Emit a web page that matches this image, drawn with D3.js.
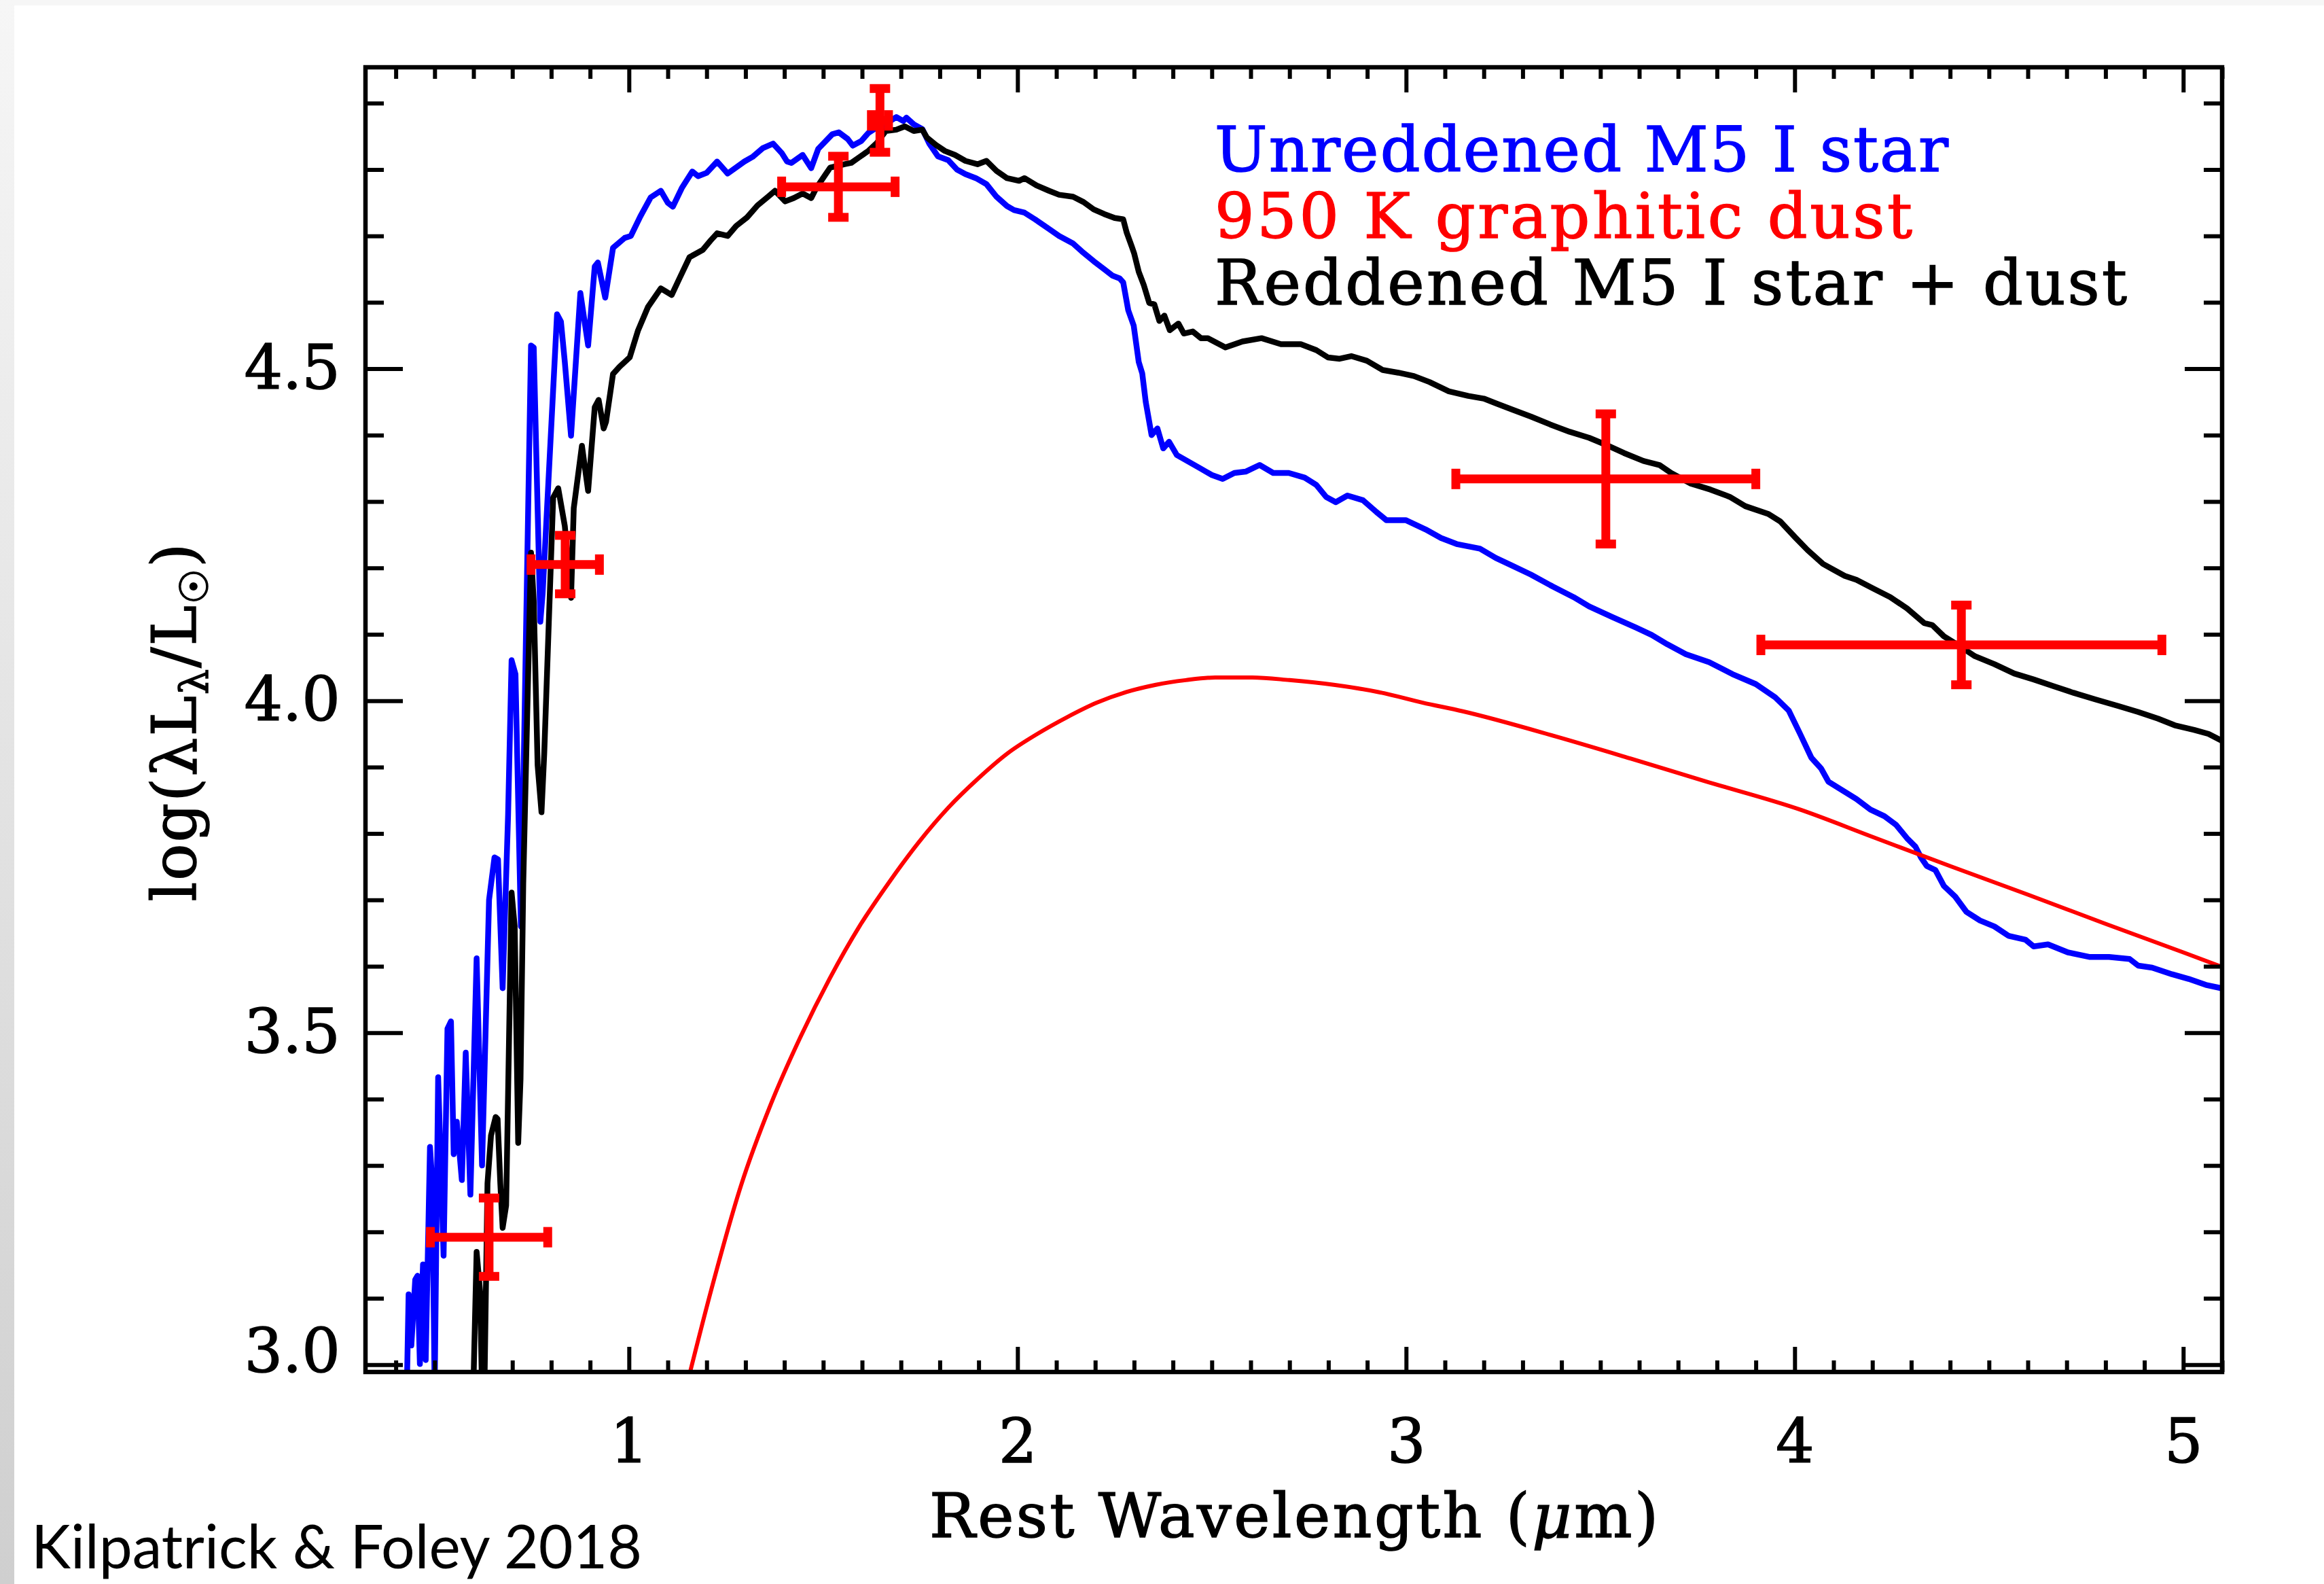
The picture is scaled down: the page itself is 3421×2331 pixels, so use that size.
<!DOCTYPE html>
<html>
<head>
<meta charset="utf-8">
<script src="https://cdnjs.cloudflare.com/ajax/libs/d3/7.8.5/d3.min.js"></script>
<style>
  body { margin: 0; background: #fff; }
  svg { display: block; }
</style>
</head>
<body>
<script>
// unreddened M5 I star spectrum (wavelength in micron, log lambda L_lambda / Lsun)
var starWave = [0.428, 0.433, 0.440, 0.450, 0.456, 0.462, 0.470, 0.477, 0.488, 0.494, 0.500, 0.509, 0.523, 0.533, 0.542, 0.549, 0.557, 0.570, 0.580, 0.592,
  0.608, 0.622, 0.640, 0.654, 0.663, 0.675, 0.689, 0.698, 0.708, 0.722, 0.748, 0.755, 0.772, 0.778, 0.815, 0.825, 0.835, 0.851, 0.875, 0.895,
  0.912, 0.920, 0.939, 0.959, 0.975, 0.989, 1.005, 1.029, 1.056, 1.082, 1.100, 1.113, 1.136, 1.163, 1.178, 1.200, 1.227, 1.254, 1.297, 1.318,
  1.344, 1.371, 1.393, 1.407, 1.418, 1.447, 1.469, 1.487, 1.523, 1.540, 1.563, 1.576, 1.598, 1.616, 1.634, 1.656, 1.669, 1.688, 1.706, 1.714,
  1.733, 1.755, 1.773, 1.795, 1.822, 1.844, 1.866, 1.893, 1.920, 1.946, 1.973, 1.991, 2.018, 2.045, 2.080, 2.107, 2.142, 2.165, 2.196, 2.223,
  2.245, 2.263, 2.272, 2.285, 2.299, 2.312, 2.321, 2.330, 2.345, 2.360, 2.375, 2.390, 2.410, 2.440, 2.470, 2.500, 2.528, 2.558, 2.587, 2.623,
  2.658, 2.698, 2.739, 2.769, 2.794, 2.819, 2.849, 2.889, 2.924, 2.949, 2.999, 3.050, 3.090, 3.130, 3.190, 3.231, 3.271, 3.321, 3.371, 3.431,
  3.471, 3.531, 3.592, 3.632, 3.672, 3.720, 3.780, 3.840, 3.900, 3.950, 3.985, 4.014, 4.043, 4.068, 4.087, 4.123, 4.159, 4.195, 4.231, 4.261,
  4.289, 4.311, 4.325, 4.340, 4.362, 4.384, 4.413, 4.442, 4.477, 4.514, 4.550, 4.594, 4.615, 4.652, 4.703, 4.760, 4.809, 4.862, 4.884, 4.920,
  4.971, 5.014, 5.058, 5.098];
var starLum = [2.95, 3.106, 3.029, 3.128, 3.134, 3.001, 3.151, 3.007, 3.328, 3.273, 2.96, 3.433, 3.164, 3.506, 3.517, 3.317, 3.366, 3.278, 3.470, 3.256,
  3.612, 3.300, 3.700, 3.764, 3.761, 3.567, 3.828, 4.061, 4.040, 3.660, 4.535, 4.532, 4.119, 4.162, 4.582, 4.571, 4.510, 4.399, 4.614, 4.535,
  4.654, 4.660, 4.607, 4.682, 4.690, 4.697, 4.700, 4.729, 4.758, 4.768, 4.750, 4.744, 4.772, 4.797, 4.790, 4.795, 4.812, 4.794, 4.812, 4.819,
  4.832, 4.839, 4.825, 4.812, 4.810, 4.822, 4.802, 4.831, 4.853, 4.856, 4.846, 4.836, 4.843, 4.855, 4.862, 4.866, 4.872, 4.879, 4.873, 4.878,
  4.868, 4.861, 4.839, 4.820, 4.814, 4.800, 4.793, 4.787, 4.778, 4.759, 4.745, 4.739, 4.735, 4.725, 4.711, 4.700, 4.689, 4.677, 4.662, 4.650,
  4.640, 4.636, 4.630, 4.588, 4.565, 4.510, 4.493, 4.450, 4.400, 4.410, 4.380, 4.390, 4.370, 4.360, 4.350, 4.340, 4.334, 4.343, 4.345, 4.355,
  4.343, 4.343, 4.336, 4.325, 4.307, 4.299, 4.309, 4.302, 4.284, 4.272, 4.272, 4.258, 4.245, 4.236, 4.229, 4.215, 4.204, 4.190, 4.174, 4.156,
  4.142, 4.126, 4.110, 4.099, 4.085, 4.070, 4.058, 4.040, 4.025, 4.005, 3.985, 3.950, 3.914, 3.898, 3.878, 3.865, 3.852, 3.836, 3.826, 3.813,
  3.793, 3.780, 3.764, 3.751, 3.745, 3.721, 3.705, 3.682, 3.669, 3.660, 3.646, 3.640, 3.630, 3.633, 3.621, 3.614, 3.614, 3.611, 3.601, 3.598,
  3.588, 3.581, 3.572, 3.567];

// reddened M5 I star + dust
var redWave = [0.599, 0.608, 0.617, 0.622, 0.628, 0.636, 0.645, 0.657, 0.662, 0.669, 0.675, 0.684, 0.698, 0.706, 0.715, 0.721, 0.728, 0.748, 0.755, 0.765,
  0.775, 0.782, 0.805, 0.818, 0.835, 0.851, 0.858, 0.879, 0.895, 0.912, 0.922, 0.935, 0.941, 0.959, 0.976, 1.002, 1.023, 1.049, 1.082, 1.110,
  1.130, 1.156, 1.190, 1.210, 1.227, 1.254, 1.276, 1.304, 1.331, 1.358, 1.376, 1.402, 1.424, 1.447, 1.469, 1.482, 1.518, 1.555, 1.572, 1.589,
  1.616, 1.638, 1.661, 1.688, 1.710, 1.733, 1.755, 1.767, 1.790, 1.813, 1.839, 1.866, 1.897, 1.920, 1.946, 1.973, 2.004, 2.018, 2.049, 2.081,
  2.107, 2.143, 2.170, 2.196, 2.223, 2.250, 2.272, 2.281, 2.294, 2.300, 2.312, 2.325, 2.339, 2.352, 2.365, 2.378, 2.392, 2.414, 2.428, 2.451,
  2.472, 2.490, 2.535, 2.579, 2.628, 2.678, 2.729, 2.769, 2.799, 2.829, 2.859, 2.899, 2.940, 2.980, 3.020, 3.060, 3.110, 3.160, 3.200, 3.231,
  3.271, 3.321, 3.371, 3.421, 3.471, 3.512, 3.561, 3.611, 3.652, 3.682, 3.733, 3.783, 3.833, 3.873, 3.933, 3.963, 4.003, 4.033, 4.073, 4.101,
  4.129, 4.159, 4.202, 4.246, 4.289, 4.333, 4.354, 4.384, 4.420, 4.464, 4.514, 4.565, 4.615, 4.666, 4.717, 4.774, 4.833, 4.884, 4.935, 4.978,
  5.028, 5.065, 5.098];
var redLum = [2.95, 3.170, 3.110, 2.96, 2.96, 3.273, 3.345, 3.373, 3.370, 3.273, 3.206, 3.240, 3.711, 3.660, 3.334, 3.430, 3.725, 4.223, 4.150, 3.903,
  3.832, 3.920, 4.306, 4.320, 4.263, 4.155, 4.290, 4.384, 4.316, 4.442, 4.453, 4.410, 4.420, 4.492, 4.503, 4.517, 4.557, 4.593, 4.621, 4.611,
  4.636, 4.668, 4.679, 4.693, 4.704, 4.700, 4.715, 4.728, 4.746, 4.759, 4.768, 4.752, 4.757, 4.764, 4.757, 4.772, 4.803, 4.808, 4.810, 4.817,
  4.828, 4.840, 4.858, 4.860, 4.865, 4.858, 4.860, 4.848, 4.837, 4.828, 4.822, 4.813, 4.808, 4.813, 4.798, 4.787, 4.783, 4.787, 4.776, 4.768,
  4.762, 4.759, 4.751, 4.740, 4.733, 4.727, 4.725, 4.705, 4.684, 4.674, 4.646, 4.626, 4.599, 4.597, 4.572, 4.580, 4.558, 4.568, 4.553, 4.556,
  4.546, 4.546, 4.532, 4.541, 4.546, 4.537, 4.537, 4.528, 4.517, 4.515, 4.519, 4.512, 4.498, 4.494, 4.489, 4.480, 4.466, 4.459, 4.455, 4.448,
  4.439, 4.428, 4.416, 4.405, 4.396, 4.386, 4.373, 4.361, 4.355, 4.343, 4.327, 4.318, 4.307, 4.293, 4.281, 4.270, 4.245, 4.227, 4.206, 4.197,
  4.188, 4.182, 4.169, 4.156, 4.139, 4.117, 4.114, 4.097, 4.084, 4.067, 4.055, 4.041, 4.032, 4.022, 4.012, 4.002, 3.992, 3.983, 3.973, 3.963,
  3.956, 3.950, 3.940];

// 950 K graphitic dust
var dustWave = [1.157, 1.212, 1.288, 1.365, 1.441, 1.517, 1.593, 1.670, 1.746, 1.822, 1.899, 1.975, 2.051, 2.127, 2.204, 2.280, 2.356, 2.433, 2.509, 2.604,
  2.700, 2.814, 2.929, 3.043, 3.146, 3.386, 3.577, 3.768, 4.014, 4.200, 4.400, 4.600, 4.800, 5.000, 5.100];
var dustLum = [2.988, 3.113, 3.269, 3.392, 3.493, 3.582, 3.660, 3.727, 3.787, 3.839, 3.883, 3.921, 3.950, 3.975, 3.997, 4.013, 4.024, 4.031, 4.035, 4.035,
  4.031, 4.024, 4.013, 3.997, 3.984, 3.946, 3.913, 3.879, 3.836, 3.795, 3.751, 3.708, 3.664, 3.621, 3.599];

// photometry with error bars
var photWave = [0.640, 0.836, 1.539, 1.646, 3.514, 4.429];
var photLum = [3.192, 4.205, 4.774, 4.874, 4.334, 4.084];
var photWaveErr = [0.151, 0.088, 0.146, 0.022, 0.386, 0.516];
var photLumErr = [0.059, 0.044, 0.046, 0.048, 0.098, 0.060];

var xTickLabels = [1, 2, 3, 4, 5];
var yTickLabels = ["3.0", "3.5", "4.0", "4.5"];
var legendLabels = ["Unreddened M5 I star", "950 K graphitic dust", "Reddened M5 I star + dust"];

var W = 3421, H = 2331;
var margin = {top: 99, left: 538, right: 150, bottom: 312};
var width = W - margin.left - margin.right;
var height = H - margin.top - margin.bottom;
var serif = "'DejaVu Serif', serif";

var svg = d3.select("body").append("svg").attr("width", W).attr("height", H);

// grey slide border
var grad = svg.append("defs").append("linearGradient").attr("id", "edge")
  .attr("x1", 0).attr("y1", 0).attr("x2", 0).attr("y2", 1);
grad.append("stop").attr("offset", 0).attr("stop-color", "#f6f6f6");
grad.append("stop").attr("offset", 1).attr("stop-color", "#cfcfcf");
svg.append("rect").attr("width", W).attr("height", 8).attr("fill", "#f6f6f6");
svg.append("rect").attr("width", 21).attr("height", H).attr("fill", "url(#edge)");

svg.select("defs").append("clipPath").attr("id", "plotclip")
  .append("rect").attr("width", width).attr("height", height);

var x = d3.scaleLinear().domain([0.322, 5.1]).range([0, width]);
var y = d3.scaleLinear().domain([2.989, 4.954]).range([height, 0]);

var g = svg.append("g").attr("transform", "translate(" + margin.left + "," + margin.top + ")");

var plot = g.append("g").attr("clip-path", "url(#plotclip)");

function spectrum(wave, lum) {
  return wave.map(function(w, i) { return [w, lum[i]]; });
}
var line = d3.line().x(function(d) { return x(d[0]); }).y(function(d) { return y(d[1]); });
var smooth = d3.line().curve(d3.curveMonotoneX).x(function(d) { return x(d[0]); }).y(function(d) { return y(d[1]); });

plot.append("path").datum(spectrum(starWave, starLum)).attr("d", line)
  .attr("fill", "none").attr("stroke", "#0000ff").attr("stroke-width", 8.5).attr("stroke-linejoin", "round");
plot.append("path").datum(spectrum(redWave, redLum)).attr("d", line)
  .attr("fill", "none").attr("stroke", "#000").attr("stroke-width", 8.5).attr("stroke-linejoin", "round");
plot.append("path").datum(spectrum(dustWave, dustLum)).attr("d", smooth)
  .attr("fill", "none").attr("stroke", "#ff0000").attr("stroke-width", 6);

// error bars
var cap = 30, thick = 13;
var pts = plot.selectAll("g.phot").data(photWave).enter().append("g").attr("class", "phot")
  .attr("fill", "#ff0000").attr("stroke", "#ff0000");
pts.append("line")
  .attr("x1", function(d, i) { return x(d - photWaveErr[i]); })
  .attr("x2", function(d, i) { return x(d + photWaveErr[i]); })
  .attr("y1", function(d, i) { return y(photLum[i]); })
  .attr("y2", function(d, i) { return y(photLum[i]); })
  .attr("stroke-width", thick);
pts.append("line")
  .attr("x1", function(d) { return x(d); })
  .attr("x2", function(d) { return x(d); })
  .attr("y1", function(d, i) { return y(photLum[i] - photLumErr[i]); })
  .attr("y2", function(d, i) { return y(photLum[i] + photLumErr[i]); })
  .attr("stroke-width", thick);
[-1, 1].forEach(function(s) {
  pts.append("rect").attr("stroke", "none")
    .attr("x", function(d, i) { return x(d + s * photWaveErr[i]) - thick / 2; })
    .attr("y", function(d, i) { return y(photLum[i]) - cap / 2; })
    .attr("width", thick).attr("height", cap);
  pts.append("rect").attr("stroke", "none")
    .attr("x", function(d) { return x(d) - cap / 2; })
    .attr("y", function(d, i) { return y(photLum[i] + s * photLumErr[i]) - thick / 2; })
    .attr("width", cap).attr("height", thick);
});

// axes
var xMinor = d3.range(4, 52).filter(function(d) { return d % 10 !== 0; }).map(function(d) { return d / 10; });
var yMinor = d3.range(30, 50).filter(function(d) { return d % 5 !== 0; }).map(function(d) { return d / 10; });
var yMajor = yTickLabels.map(Number);

function styleAxis(sel) {
  sel.select(".domain").remove();
  sel.selectAll("line").attr("stroke", "#000").attr("stroke-width", 6);
  sel.selectAll("text").attr("font-family", serif).attr("font-size", 89).attr("fill", "#000")
    .attr("stroke", "#000").attr("stroke-width", 1.5);
}

g.append("g").attr("transform", "translate(0," + height + ")")
  .call(d3.axisBottom(x).tickValues(xTickLabels).tickSize(-37).tickPadding(70).tickFormat(d3.format("d"))).call(styleAxis);
g.append("g").attr("transform", "translate(0," + height + ")")
  .call(d3.axisBottom(x).tickValues(xMinor).tickSize(-17).tickFormat("")).call(styleAxis);
g.append("g")
  .call(d3.axisTop(x).tickValues(xTickLabels).tickSize(-37).tickFormat("")).call(styleAxis);
g.append("g")
  .call(d3.axisTop(x).tickValues(xMinor).tickSize(-17).tickFormat("")).call(styleAxis);

var yAxisG = g.append("g")
  .call(d3.axisLeft(y).tickValues(yMajor).tickSize(-55).tickPadding(37).tickFormat(function(d, i) { return yTickLabels[i]; })).call(styleAxis);
// lowest label sits a little above its tick, as in the original
yAxisG.selectAll(".tick").filter(function(d) { return d === yMajor[0]; }).select("text").attr("dy", "0.12em");
g.append("g")
  .call(d3.axisLeft(y).tickValues(yMinor).tickSize(-27).tickFormat("")).call(styleAxis);
g.append("g").attr("transform", "translate(" + width + ",0)")
  .call(d3.axisRight(y).tickValues(yMajor).tickSize(-55).tickFormat("")).call(styleAxis);
g.append("g").attr("transform", "translate(" + width + ",0)")
  .call(d3.axisRight(y).tickValues(yMinor).tickSize(-27).tickFormat("")).call(styleAxis);

g.append("rect").attr("width", width).attr("height", height)
  .attr("fill", "none").attr("stroke", "#000").attr("stroke-width", 6.5);

// axis titles
var xt = svg.append("text").attr("x", margin.left + width / 2).attr("y", 2262)
  .attr("text-anchor", "middle").attr("font-family", serif).attr("font-size", 90)
  .attr("stroke", "#000").attr("stroke-width", 1.5)
  .attr("textLength", 1073).attr("lengthAdjust", "spacing");
xt.append("tspan").text("Rest Wavelength (");
xt.append("tspan").attr("font-style", "italic").text("\u03bc");
xt.append("tspan").text("m)");

var yt = svg.append("text").attr("transform", "translate(288," + (margin.top + height / 2 + 4) + ") rotate(-90)")
  .attr("text-anchor", "middle").attr("font-family", serif).attr("font-size", 90)
  .attr("stroke", "#000").attr("stroke-width", 1.5)
  .attr("textLength", 527).attr("lengthAdjust", "spacing");
yt.append("tspan").text("log(\u03bbL");
yt.append("tspan").attr("font-size", 58).attr("dy", 18).text("\u03bb");
yt.append("tspan").attr("dy", -18).text("/L");
yt.append("tspan").attr("font-size", 58).attr("dy", 18).text("\u2609");
yt.append("tspan").attr("dy", -18).text(")");

// legend
var legendColors = ["#0000ff", "#ff0000", "#000000"];
var legendLengths = [1080, 1027, 1343];
svg.selectAll("text.legend").data(legendLabels).enter().append("text").attr("class", "legend")
  .attr("x", 1788).attr("y", function(d, i) { return 252 + i * 98; })
  .attr("fill", function(d, i) { return legendColors[i]; })
  .attr("stroke", function(d, i) { return legendColors[i]; }).attr("stroke-width", 1.5)
  .attr("font-family", serif).attr("font-size", 92)
  .attr("textLength", function(d, i) { return legendLengths[i]; }).attr("lengthAdjust", "spacing")
  .text(function(d) { return d; });

// credit
svg.append("text").attr("x", 46).attr("y", 2308)
  .attr("font-family", "Lato, 'Open Sans', sans-serif").attr("font-size", 90)
  .attr("textLength", 899).attr("lengthAdjust", "spacingAndGlyphs")
  .text("Kilpatrick & Foley 2018");
</script>
</body>
</html>
